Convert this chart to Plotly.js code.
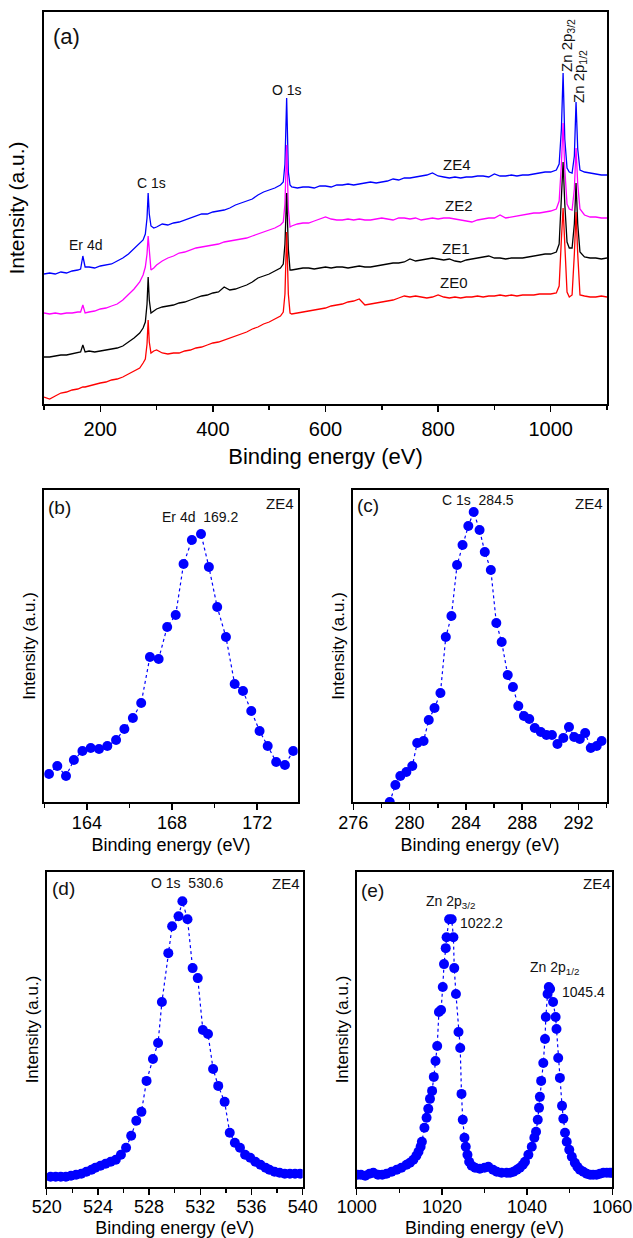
<!DOCTYPE html>
<html><head><meta charset="utf-8">
<script src="https://cdn.plot.ly/plotly-3.0.1.min.js"></script>
<style>html,body{margin:0;padding:0;background:#fff}#chart{width:633px;height:1238px}</style>
</head><body><div id="chart"></div>
<script>
const W = 633, H = 1238;

// ---------- (a) survey spectra ----------
const surveyEnergy = [100,110,120,130,140,150,160,165,169,173,180,190,200,210,220,230,240,250,260,270,276,280,283,285,287,290,295,300,310,320,330,340,350,360,370,380,390,400,410,420,430,440,450,460,470,480,490,500,510,520,525,528,531,534,537,540,550,560,570,580,590,600,610,620,630,640,650,660,670,680,690,700,710,720,730,740,750,760,770,780,790,800,810,820,830,840,850,860,870,880,890,900,910,920,930,940,950,960,970,980,990,1000,1010,1015,1019,1022,1025,1029,1033,1038,1042,1045,1048,1052,1060,1070,1080,1090,1100];
const ze4 = [130,131,130,132,131,133,134,135,148,137,137,136,138,139,140,143,146,150,155,160,164,170,186,211,190,178,176,177,180,179,181,182,184,186,188,190,190,192,193,194,196,199,201,203,205,209,212,214,216,219,222,240,306,232,219,217,216,217,217,216,218,218,217,219,219,220,219,220,221,222,221,222,223,225,224,226,226,227,228,229,231,228,227,226,227,226,227,227,228,228,227,230,228,228,229,228,229,229,230,231,232,232,234,240,275,331,265,236,232,231,248,302,255,234,232,231,230,229,229];
const ze2 = [91,90,91,90,91,91,92,92,99,91,92,93,95,96,98,100,104,109,115,122,129,137,150,168,150,134,136,139,143,146,148,151,152,154,156,157,158,159,160,162,163,164,165,166,168,170,172,174,176,179,182,200,259,195,177,178,180,181,181,183,185,187,185,184,184,185,184,185,184,184,185,186,185,184,186,186,185,186,184,185,186,185,186,186,185,184,183,182,184,185,186,186,189,186,187,188,189,190,191,191,192,193,195,203,240,281,235,200,195,194,215,256,220,195,189,187,187,186,186];
const ze1 = [47,47,48,49,49,50,51,52,59,52,53,52,53,54,55,56,58,62,66,71,76,82,100,127,104,91,93,95,97,98,99,101,102,104,106,108,109,111,112,117,114,115,117,119,122,126,128,130,133,136,140,160,211,155,134,134,135,136,136,135,136,137,136,137,137,136,137,138,137,137,138,139,140,141,141,142,145,143,144,145,146,145,144,145,143,142,144,145,146,147,148,146,146,145,146,146,146,147,148,149,150,150,152,160,205,242,200,162,156,156,180,221,180,152,147,146,146,145,146];
const ze0 = [7,5,8,11,12,14,15,16,17,17,18,20,21,22,24,25,27,30,33,36,41,45,60,84,62,51,53,54,51,50,51,51,53,54,56,57,59,61,62,64,66,68,70,72,75,77,80,82,85,88,92,110,172,110,91,90,91,92,93,94,95,96,98,99,100,102,103,105,99,100,101,102,103,104,106,108,107,108,107,106,107,109,107,106,107,106,107,107,108,107,108,108,109,108,109,108,109,109,109,110,110,110,111,118,165,196,160,112,107,109,150,192,150,109,108,107,107,108,107];
const surveyNames = ['ZE4','ZE2','ZE1','ZE0'];
const surveyColors = ['#0000FF','#FF00FF','#000000','#FF0000'];

// ---------- (b) Er 4d ----------
const er4dEnergy = [162.22,162.61,163.02,163.39,163.79,164.18,164.57,164.96,165.37,165.76,166.16,166.55,166.96,167.37,167.77,168.17,168.54,168.93,169.36,169.73,170.12,170.53,170.94,171.33,171.72,172.11,172.49,172.89,173.30,173.69];
const er4dIntensity = [28,36,26,42,51,54,53,56,62,73,84,99,145,143,175,187,238,262,268,235,195,165,118,111,91,71,56,40,37,51];

// ---------- (c) C 1s ----------
const c1sEnergy = [278.59,278.99,279.34,279.77,280.19,280.54,280.99,281.36,281.77,282.19,282.57,282.97,283.37,283.76,284.17,284.55,284.97,285.34,285.77,286.16,286.54,286.97,287.34,287.72,288.12,288.50,288.89,289.32,289.72,290.11,290.50,290.92,291.32,291.69,292.09,292.47,292.87,293.29,293.64];
const c1sIntensity = [0,17,26,30,36,59,61,82,94,109,165,186,237,257,276,290,272,250,232,179,160,127,115,96,86,83,74,70,67,67,58,64,75,65,63,69,54,56,61];

// ---------- (d) O 1s ----------
const o1sEnergy = [520.3,520.7,521.1,521.5,521.9,522.3,522.7,523.1,523.5,523.8,524.2,524.6,525.0,525.4,525.8,526.2,526.6,527.0,527.4,527.8,528.3,528.7,529.0,529.5,529.8,530.3,530.6,531.0,531.4,531.8,532.2,532.6,533.0,533.4,533.9,534.3,534.7,535.1,535.5,535.9,536.3,536.7,537.1,537.4,537.8,538.2,538.6,539.0,539.4,539.8];
const o1sIntensity = [10,10,10,10,11,12,13,15,17,19,21,23,25,27,32,39,51,66,75,106,128,144,185,234,261,271,286,268,219,209,157,153,118,101,85,54,44,39,32,29,25,22,19,17,15,14,13,13,13,13];

// ---------- (e) Zn 2p ----------
const zn2pEnergy = [1000.2,1001.0,1002.0,1003.0,1003.9,1005.0,1006.0,1007.0,1008.2,1009.4,1010.5,1011.7,1012.5,1013.3,1014.0,1014.5,1015.0,1015.3,1015.9,1016.4,1016.8,1017.2,1017.7,1018.1,1018.5,1018.9,1019.3,1019.8,1020.2,1020.5,1020.9,1021.1,1021.7,1022.3,1022.7,1022.9,1023.3,1023.9,1024.3,1024.6,1024.9,1025.3,1025.6,1026.0,1026.4,1027.0,1027.8,1028.9,1030.0,1030.9,1032.0,1032.9,1034.0,1035.2,1036.0,1036.8,1037.6,1038.3,1039.0,1039.5,1040.3,1041.1,1041.7,1042.1,1042.5,1042.8,1043.0,1043.3,1043.8,1044.2,1044.4,1044.8,1045.1,1045.4,1046.1,1046.7,1046.9,1047.3,1047.7,1048.2,1048.5,1048.9,1049.3,1049.9,1050.5,1051.2,1051.8,1052.4,1053.2,1054.0,1054.8,1055.5,1056.3,1057.1,1057.9,1058.7,1059.4,1059.9];
const zn2pIntensity = [12,12,11,13,14,12,12,13,15,17,19,22,24,27,31,35,40,45,59,69,78,88,96,110,126,141,175,177,200,223,239,250,268,268,250,219,193,155,139,93,67,49,40,32,25,21,19,18,19,20,17,15,14,14,14,15,17,19,22,25,32,40,49,55,67,79,90,106,124,148,170,193,200,198,185,170,158,129,109,81,68,54,45,37,30,24,20,17,15,13,12,12,12,13,14,14,14,14];

// ---------- helpers ----------
const FONT = 'Liberation Sans, Arial, sans-serif';
const px = (x0, x1) => [x0 / W, x1 / W];
const py = (top, bottom) => [1 - bottom / H, 1 - top / H];

function xAxis(dom, anchor, range, dtick, minor, tickSize, titleSize, standoff, lblOff) {
  return {
    domain: dom, anchor: anchor, range: range, dtick: dtick, tick0: 0,
    ticks: 'outside', ticklen: 6, tickwidth: 1.5, tickcolor: '#000',
    ticklabelstandoff: lblOff,
    minor: {dtick: minor, tick0: 0, ticks: 'outside', ticklen: 4, tickwidth: 1.5, tickcolor: '#000', showgrid: false},
    showline: true, linewidth: 2, linecolor: '#000', mirror: true,
    showgrid: false, zeroline: false,
    tickfont: {family: FONT, size: tickSize, color: '#000'},
    title: {text: 'Binding energy (eV)', font: {family: FONT, size: titleSize, color: '#000'}, standoff: standoff}
  };
}
function yAxis(dom, anchor, range, titleSize, standoff) {
  return {
    domain: dom, anchor: anchor, range: range,
    showticklabels: false, ticks: '',
    showline: true, linewidth: 2, linecolor: '#000', mirror: true,
    showgrid: false, zeroline: false,
    title: {text: 'Intensity (a.u.)', font: {family: FONT, size: titleSize, color: '#000'}, standoff: standoff}
  };
}
function ann(text, x, y, size, extra) {
  return Object.assign({
    text: text, xref: 'paper', yref: 'paper', x: x / W, y: 1 - y / H,
    xanchor: 'center', yanchor: 'middle', showarrow: false,
    font: {family: FONT, size: size, color: '#111'}
  }, extra || {});
}

const traces = [];
[ze4, ze2, ze1, ze0].forEach((ys, i) => {
  traces.push({x: surveyEnergy, y: ys, name: surveyNames[i], type: 'scatter', mode: 'lines',
    line: {color: surveyColors[i], width: 1.3}, xaxis: 'x', yaxis: 'y'});
});
const detail = [
  [er4dEnergy, er4dIntensity, 'x2', 'y2'],
  [c1sEnergy, c1sIntensity, 'x3', 'y3'],
  [o1sEnergy, o1sIntensity, 'x4', 'y4'],
  [zn2pEnergy, zn2pIntensity, 'x5', 'y5']
];
detail.forEach(d => {
  traces.push({x: d[0], y: d[1], type: 'scatter', mode: 'lines+markers', name: 'ZE4',
    line: {color: '#0000FF', width: 1.2, dash: 'dot'},
    marker: {color: '#0000FF', size: 10}, xaxis: d[2], yaxis: d[3]});
});

const layout = {
  width: W, height: H, showlegend: false,
  paper_bgcolor: '#fff', plot_bgcolor: '#fff',
  margin: {l: 0, r: 0, t: 0, b: 0},
  font: {family: FONT, color: '#000'},
  xaxis: xAxis(px(44, 607), 'y', [100, 1100], 200, 100, 20, 22, 10, 0),
  yaxis: yAxis(py(12, 404), 'x', [0, 392], 21, 12),
  xaxis2: xAxis(px(44.3, 297.7), 'y2', [162, 173.9], 4, 2, 18, 18, 7, -3),
  yaxis2: yAxis(py(490, 802), 'x2', [0, 312], 17, 2),
  xaxis3: xAxis(px(353.3, 606.7), 'y3', [276, 294], 4, 2, 18, 18, 7, -3),
  yaxis3: yAxis(py(490, 802), 'x3', [0, 312], 17, 2),
  xaxis4: xAxis(px(46.7, 302.7), 'y4', [520, 540], 4, 2, 18, 18, 7, -3),
  yaxis4: yAxis(py(872.3, 1186.7), 'x4', [0, 315], 17, 2),
  xaxis5: xAxis(px(356.7, 612.3), 'y5', [1000, 1060], 20, 10, 18, 18, 7, -3),
  yaxis5: yAxis(py(872.3, 1186.7), 'x5', [0, 315], 17, 2),
  annotations: [
    ann('(a)', 66, 36, 22),
    ann('Er 4d', 85, 245, 14),
    ann('C 1s', 151, 183, 14),
    ann('O 1s', 287, 90, 14),
    ann('ZE4', 457, 164, 15),
    ann('ZE2', 459, 205, 15),
    ann('ZE1', 456, 248, 15),
    ann('ZE0', 454, 283, 15),
    ann('Zn 2p<sub>3/2</sub>', 567, 46, 15, {textangle: -90}),
    ann('Zn 2p<sub>1/2</sub>', 579, 77, 15, {textangle: -90}),
    ann('(b)', 60, 507, 19),
    ann('Er 4d&nbsp; 169.2', 200, 517, 14),
    ann('ZE4', 280, 503, 15),
    ann('(c)', 368, 505, 19),
    ann('C 1s&nbsp; 284.5', 478, 500, 14),
    ann('ZE4', 589, 503, 15),
    ann('(d)', 63, 888, 19),
    ann('O 1s&nbsp; 530.6', 187, 883, 14),
    ann('ZE4', 286, 883, 15),
    ann('(e)', 372, 890, 19),
    ann('ZE4', 597, 883, 15),
    ann('Zn 2p<sub>3/2</sub>', 450, 902, 14),
    ann('1022.2', 481, 923, 14),
    ann('Zn 2p<sub>1/2</sub>', 554, 968, 14),
    ann('1045.4', 583, 992, 14)
  ]
};

Plotly.newPlot('chart', traces, layout, {displayModeBar: false, staticPlot: true});
</script>
</body></html>
